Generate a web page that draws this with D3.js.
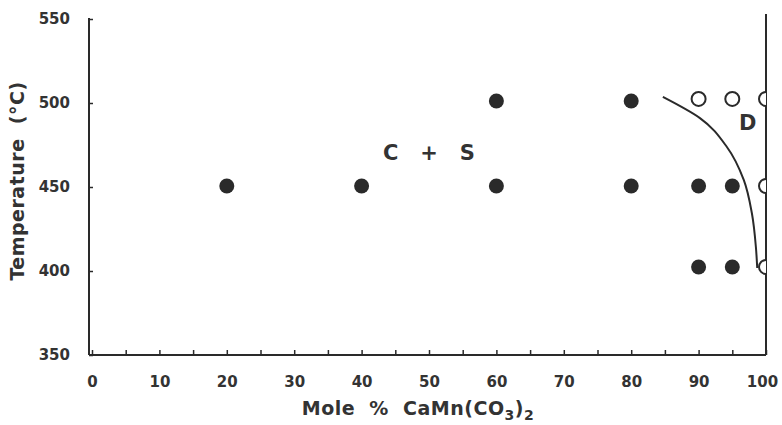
<!DOCTYPE html>
<html><head><meta charset="utf-8">
<script src="https://cdn.jsdelivr.net/npm/d3@7"></script>
<style>
body{margin:0;background:#fff;}
text{font-family:"DejaVu Sans",sans-serif;fill:#333;}
</style></head>
<body>
<svg id="chart" width="782" height="425"></svg>
<script>
// Data
const xTicks = [0,10,20,30,40,50,60,70,80,90,100];
const xMinorTicks = [5,15,25,35,45,55,65,75,85,95];
const yTicks = [350,400,450,500,550];
const filledX = [20,40,60,60,80,80,90,95,90,95];
const filledY = [450.6,450.6,501.2,450.6,501.2,450.6,450.6,450.6,402.4,402.4];
const openX = [90,95,100,100,100];
const openY = [502.4,502.4,502.4,450.6,402.4];
const boundaryX = [84.7,90.2,94.2,96.7,97.9,98.5,98.7];
const boundaryY = [503.6,491,473.8,454.2,434.5,414.3,401.8];
const labels = [{t:"C   +   S",x:50,y:470},{t:"D",x:97.3,y:488}];

const svg = d3.select("#chart");
const x = d3.scaleLinear().domain([0,100]).range([92,766]);
const y = d3.scaleLinear().domain([350,550]).range([355,19]);
const ink = "#2a2a2a";

svg.append("defs").append("clipPath").attr("id","clipR")
  .append("rect").attr("x",0).attr("y",0).attr("width",x(100)).attr("height",425);

// X axis
const xAxis = d3.axisBottom(x).tickValues(xTicks.concat(xMinorTicks)).tickSizeInner(-5).tickSizeOuter(0).tickFormat(d=> xTicks.includes(d)? d : "");
const gx = svg.append("g").attr("transform",`translate(0,${y(350)})`).call(xAxis);
gx.select(".domain").attr("d",`M${x(0)-3},0H${x(100)}`).attr("stroke",ink).attr("stroke-width",2);
gx.selectAll(".tick line").attr("stroke",ink).attr("stroke-width",1.5);
gx.selectAll(".tick text").attr("y",21).attr("dx",d=>d===100?-4:0).style("font-size","15px").style("font-weight","bold").attr("fill","#333");

// Y axis
const yAxis = d3.axisLeft(y).tickValues(yTicks).tickSizeInner(-4).tickSizeOuter(0);
const gy = svg.append("g").attr("transform",`translate(${x(0)-3},0)`).call(yAxis);
gy.select(".domain").attr("d",`M0,${y(550)-1}V${y(350)}`).attr("stroke",ink).attr("stroke-width",2);
gy.selectAll(".tick line").attr("stroke",ink).attr("stroke-width",1.5);
gy.selectAll(".tick text").attr("x",-19).style("font-size","15px").style("font-weight","bold").attr("fill","#333");

// Right boundary line (pure end-member)
svg.append("line").attr("x1",x(100)).attr("x2",x(100)).attr("y1",y(550)-5).attr("y2",y(350))
  .attr("stroke",ink).attr("stroke-width",2);

// Phase boundary curve
const pts = boundaryX.map((d,i)=>[d,boundaryY[i]]);
svg.append("path").datum(pts)
  .attr("d", d3.line().x(d=>x(d[0])).y(d=>y(d[1])).curve(d3.curveMonotoneY))
  .attr("fill","none").attr("stroke",ink).attr("stroke-width",2);

// Filled points
svg.selectAll(".f").data(filledX.map((d,i)=>[d,filledY[i]])).enter().append("circle")
  .attr("cx",d=>x(d[0])).attr("cy",d=>y(d[1])).attr("r",7.5).attr("fill","#2a2a2a");

// Open points
svg.append("g").attr("clip-path","url(#clipR)").selectAll(".o").data(openX.map((d,i)=>[d,openY[i]])).enter().append("circle")
  .attr("cx",d=>x(d[0])).attr("cy",d=>y(d[1])).attr("r",7).attr("fill","#fff").attr("stroke",ink).attr("stroke-width",2);

// Field labels
svg.selectAll(".lab").data(labels).enter().append("text")
  .attr("x",d=>x(d.x)).attr("y",d=>y(d.y)).attr("text-anchor","middle").attr("dominant-baseline","central")
  .style("font-size","21px").style("font-weight","bold").attr("fill","#333")
  .style("white-space","pre").text(d=>d.t);

// Axis titles
const xt = svg.append("text").attr("x",418).attr("y",415).attr("text-anchor","middle")
  .style("font-size","19px").style("font-weight","bold").style("white-space","pre").style("letter-spacing","0.5px");
xt.append("tspan").text("Mole  %  CaMn(CO");
xt.append("tspan").attr("dy",5).style("font-size","14px").text("3");
xt.append("tspan").attr("dy",-5).text(")");
xt.append("tspan").attr("dy",5).style("font-size","14px").text("2");

svg.append("text").attr("transform","translate(24,181) rotate(-90)").attr("text-anchor","middle")
  .style("font-size","19px").style("font-weight","bold").style("white-space","pre").style("letter-spacing","0.5px").text("Temperature  (°C)");
</script>
</body></html>
